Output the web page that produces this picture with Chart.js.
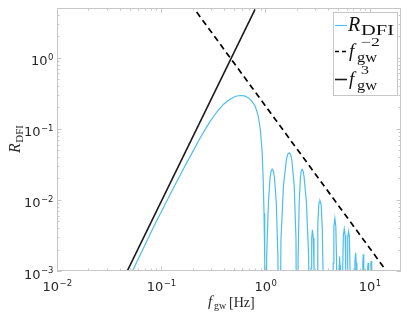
<!DOCTYPE html>
<html>
<head>
<meta charset="utf-8">
<script src="https://cdn.jsdelivr.net/npm/chart.js@4"></script>
<style>
  body { margin: 0; background: #fff; }
  canvas { display: block; }
</style>
</head>
<body>
<canvas id="c" width="409" height="313"></canvas>
<script>
// axis ticks (decades) and their exponent labels
var xTicks = [0.01, 0.1, 1, 10], xTickExp = ['\u22122', '\u22121', '0', '1'];
var yTicks = [0.001, 0.01, 0.1, 1], yTickExp = ['\u22123', '\u22122', '\u22121', '0'];

// R_DFI main hump
var humpF = [0.01, 0.04, 0.053, 0.084, 0.122, 0.15, 0.177, 0.209, 0.237, 0.27, 0.296, 0.344, 0.397, 0.46, 0.52,
    0.575, 0.63, 0.69, 0.75, 0.8, 0.85, 0.895, 0.93, 0.95, 0.97, 0.985, 0.995, 1.0];
var humpR = [6.7e-6, 4.3e-4, 1.0e-3, 0.0041, 0.012, 0.0215, 0.034, 0.053, 0.075, 0.103, 0.128, 0.175, 0.222, 0.262, 0.287,
    0.294, 0.29, 0.272, 0.24, 0.206, 0.155, 0.097, 0.047, 0.021, 0.0065, 0.0014, 1e-4, 1e-6];

// R_DFI ripples after the first zero (zeros drop below the axis)
var rippleF = [1.028, 1.07, 1.11, 1.135, 1.16, 1.19, 1.22, 1.27, 1.318, 1.35,
    1.41, 1.49, 1.59, 1.64, 1.69, 1.74, 1.79, 1.89, 1.965, 2.02,
    2.06, 2.11, 2.17, 2.21, 2.25, 2.3, 2.35, 2.47, 2.6, 2.68,
    2.71, 2.74, 2.78, 2.83, 2.88, 2.925, 2.96,
    3.09, 3.13, 3.18, 3.25, 3.29, 3.34, 3.39, 3.43, 3.51, 3.58, 3.62,
    4.41, 4.47, 4.54, 4.64, 4.74, 4.82, 4.89,
    5.04, 5.1, 5.15, 5.2, 5.26,
    5.46, 5.52, 5.6, 5.71, 5.82, 5.9, 5.97,
    6.01, 6.08, 6.16, 6.28, 6.4, 6.49, 6.57,
    7.13, 7.22, 7.33, 7.44, 7.55,
    8.51, 8.6, 8.69, 8.79, 8.89,
    9.5, 9.6, 9.67, 9.75, 9.84,
    10.16, 10.26, 10.33, 10.42, 10.53];
var rippleR = [0.0016, 0.0095, 0.021, 0.0255, 0.027, 0.0255, 0.021, 0.0095, 0.0016, 1e-6,
    0.0028, 0.016, 0.037, 0.044, 0.046, 0.044, 0.037, 0.016, 0.0028, 1e-6,
    0.0016, 0.0095, 0.021, 0.0255, 0.027, 0.0255, 0.021, 0.0095, 0.0016, 1e-6,
    1e-6, 0.0011, 0.0029, 0.0038, 0.0029, 0.0011, 1e-6,
    1e-6, 0.0009, 0.0045, 0.0085, 0.0093, 0.0097, 0.0092, 0.0082, 0.0042, 0.0008, 1e-6,
    1e-6, 0.0013, 0.0042, 0.0055, 0.0042, 0.0013, 1e-6,
    1e-6, 0.0012, 0.0016, 0.0012, 1e-6,
    1e-6, 0.0011, 0.0032, 0.0039, 0.0032, 0.0011, 1e-6,
    1e-6, 0.001, 0.003, 0.0036, 0.003, 0.001, 1e-6,
    1e-6, 0.0013, 0.0018, 0.0013, 1e-6,
    1e-6, 0.0013, 0.00172, 0.0013, 1e-6,
    1e-6, 0.00115, 0.0013, 0.00115, 1e-6,
    1e-6, 0.0012, 0.00138, 0.0012, 1e-6];

// power-law guide lines, end points only
var invSqF = [0.1, 20], invSqR = [21, 5.25e-4];
var cubeF = [0.03, 1.2], cubeR = [2.565e-4, 16.42];

function pts(fs, rs) {
    return fs.map(function (f, i) { return { x: f, y: rs[i] }; });
}

var labelColor = '#262626', boxColor = '#c6c6c6', rColor = '#4DBEEE';
var sans = 'DejaVu Sans', serif = 'Liberation Serif';

function minorTicks(lo, hi) {
    var out = [];
    for (var d = Math.floor(Math.log10(lo)); d <= Math.ceil(Math.log10(hi)); d++) {
        for (var m = 2; m <= 9; m++) {
            var v = m * Math.pow(10, d);
            if (v > lo && v < hi) out.push(v);
        }
    }
    return out;
}

// "10" with a raised exponent
function powLabel(ctx, exp, x, y, align) {
    ctx.font = '13px "' + sans + '"';
    var wBase = ctx.measureText('10').width;
    ctx.font = '8.5px "' + sans + '"';
    var wExp = ctx.measureText(exp).width;
    var left = align === 'right' ? x - wBase - wExp : x - (wBase + wExp) / 2;
    ctx.textAlign = 'left';
    ctx.textBaseline = 'alphabetic';
    ctx.font = '13px "' + sans + '"';
    ctx.fillText('10', left, y);
    ctx.font = '8.5px "' + sans + '"';
    ctx.fillText(exp, left + wBase + 0.5, y - 5.5);
}

// text squeezed/stretched to a given width
function fitText(ctx, txt, x, y, w) {
    var m = ctx.measureText(txt).width;
    ctx.save();
    ctx.translate(x, y);
    ctx.scale(w / m, 1);
    ctx.fillText(txt, 0, 0);
    ctx.restore();
}

var axesBox = {
    id: 'axesBox',
    afterDatasetsDraw: function (chart) {
        var ctx = chart.ctx, a = chart.chartArea, xs = chart.scales.x, ys = chart.scales.y;
        ctx.save();
        ctx.strokeStyle = boxColor;
        ctx.lineWidth = 1;
        ctx.strokeRect(a.left + 0.5, a.top + 0.5, a.right - a.left - 1, a.bottom - a.top - 1);

        ctx.beginPath();
        xTicks.forEach(function (v) {
            var px = Math.round(xs.getPixelForValue(v)) + 0.5;
            ctx.moveTo(px, a.bottom); ctx.lineTo(px, a.bottom - 4.5);
            ctx.moveTo(px, a.top); ctx.lineTo(px, a.top + 4.5);
        });
        minorTicks(xs.min, xs.max).forEach(function (v) {
            var px = Math.round(xs.getPixelForValue(v)) + 0.5;
            ctx.moveTo(px, a.bottom); ctx.lineTo(px, a.bottom - 2.5);
            ctx.moveTo(px, a.top); ctx.lineTo(px, a.top + 2.5);
        });
        yTicks.forEach(function (v) {
            var py = Math.round(ys.getPixelForValue(v)) + 0.5;
            ctx.moveTo(a.left, py); ctx.lineTo(a.left + 4.5, py);
            ctx.moveTo(a.right, py); ctx.lineTo(a.right - 4.5, py);
        });
        minorTicks(ys.min, ys.max).forEach(function (v) {
            var py = Math.round(ys.getPixelForValue(v)) + 0.5;
            ctx.moveTo(a.left, py); ctx.lineTo(a.left + 2.5, py);
            ctx.moveTo(a.right, py); ctx.lineTo(a.right - 2.5, py);
        });
        ctx.stroke();

        ctx.fillStyle = labelColor;
        xTicks.forEach(function (v, i) {
            powLabel(ctx, xTickExp[i], xs.getPixelForValue(v), a.bottom + 20, 'center');
        });
        yTicks.forEach(function (v, i) {
            powLabel(ctx, yTickExp[i], a.left - 4, ys.getPixelForValue(v) + 7.5, 'right');
        });

        // axis titles
        ctx.textAlign = 'left';
        ctx.font = 'italic 15px "' + serif + '"';
        ctx.fillText('f', 208, 306);
        ctx.font = '10px "' + serif + '"';
        ctx.fillText('gw', 214, 309);
        ctx.font = '14px "' + serif + '"';
        ctx.fillText('[Hz]', 229, 307);

        ctx.save();
        ctx.translate(20, 153);
        ctx.rotate(-Math.PI / 2);
        ctx.font = 'italic 16px "' + serif + '"';
        ctx.fillText('R', 0, 0);
        var rw = ctx.measureText('R').width;
        ctx.font = '11px "' + serif + '"';
        ctx.fillText('DFI', rw + 0.5, 2.5);
        ctx.restore();

        ctx.restore();
    },
    afterDraw: function (chart) {
        var ctx = chart.ctx;
        ctx.save();
        ctx.fillStyle = '#fff';
        ctx.fillRect(333, 12, 64, 83);
        ctx.strokeStyle = boxColor;
        ctx.lineWidth = 1;
        ctx.strokeRect(333.5, 12.5, 64, 83);

        // line samples
        ctx.lineWidth = 1.2;
        ctx.strokeStyle = rColor;
        ctx.beginPath(); ctx.moveTo(335, 25.5); ctx.lineTo(347, 25.5); ctx.stroke();
        ctx.strokeStyle = '#000';
        ctx.lineWidth = 1.6;
        ctx.setLineDash([4, 3]);
        ctx.beginPath(); ctx.moveTo(335, 51.5); ctx.lineTo(347, 51.5); ctx.stroke();
        ctx.setLineDash([]);
        ctx.strokeStyle = '#1a1a1a';
        ctx.beginPath(); ctx.moveTo(335, 79.5); ctx.lineTo(347, 79.5); ctx.stroke();

        ctx.fillStyle = '#111';
        ctx.textAlign = 'left';
        ctx.textBaseline = 'alphabetic';
        ctx.font = 'italic 20px "' + serif + '"';
        ctx.fillText('R', 348, 31);
        ctx.font = '14px "' + serif + '"';
        fitText(ctx, 'DFI', 361, 35, 33);

        ctx.font = 'italic 19px "' + serif + '"';
        ctx.fillText('f', 349, 57);
        ctx.fillText('f', 349, 85);
        ctx.font = '12px "' + serif + '"';
        fitText(ctx, '\u22122', 361, 46, 19);
        fitText(ctx, '3', 361, 74, 8);
        ctx.font = '14px "' + serif + '"';
        fitText(ctx, 'gw', 357, 62, 20);
        fitText(ctx, 'gw', 357, 90, 20);
        ctx.restore();
    }
};

new Chart(document.getElementById('c'), {
    type: 'scatter',
    data: {
        datasets: [
            {
                label: 'R_DFI',
                data: pts(humpF.concat(rippleF), humpR.concat(rippleR)),
                showLine: true,
                borderColor: rColor,
                borderWidth: 1.2,
                pointRadius: 0,
                tension: 0
            },
            {
                label: 'f^-2',
                data: pts(invSqF, invSqR),
                showLine: true,
                borderColor: '#000',
                borderWidth: 1.7,
                borderDash: [6, 4],
                pointRadius: 0
            },
            {
                label: 'f^3',
                data: pts(cubeF, cubeR),
                showLine: true,
                borderColor: '#1a1a1a',
                borderWidth: 1.6,
                pointRadius: 0
            }
        ]
    },
    options: {
        responsive: false,
        animation: false,
        layout: { padding: { left: 57, top: 8, right: 8, bottom: 42 } },
        plugins: { legend: { display: false }, tooltip: { enabled: false } },
        scales: {
            x: { type: 'logarithmic', min: 0.01, max: 20, display: false },
            y: { type: 'logarithmic', min: 0.001, max: 5, display: false }
        }
    },
    plugins: [axesBox]
});
</script>
</body>
</html>
